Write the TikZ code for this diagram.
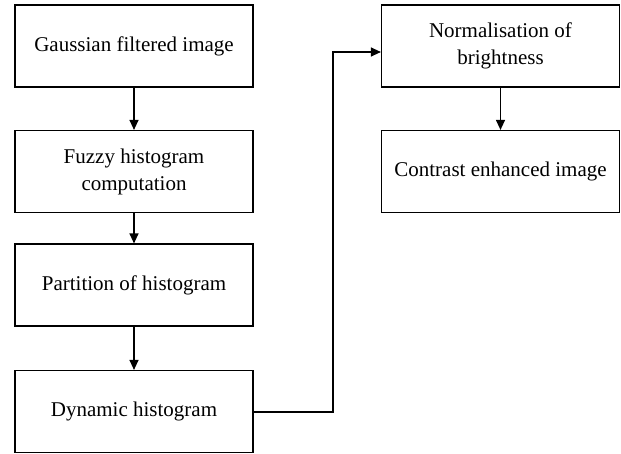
\documentclass[tikz,border=0pt]{standalone}
\usepackage{fontspec}
\setmainfont{Liberation Serif}
\usetikzlibrary{arrows.meta}
\begin{document}
\begin{tikzpicture}[x=1pt,y=-1pt,
  box/.style={draw, line width=1.2pt, minimum width=238pt, minimum height=82pt, inner sep=0pt, align=center, font=\fontsize{21}{27}\selectfont},
  conn/.style={line width=1.2pt, -{Triangle[length=10pt,width=9pt]}}]
\useasboundingbox (0,0) rectangle (621,453);
\node[box] (g) at (134,46) {Gaussian filtered image};
\node[box] (f) at (134,171.5) {Fuzzy histogram\\computation};
\node[box] (p) at (134,285) {Partition of histogram};
\node[box] (d) at (134,411.5) {Dynamic histogram};
\node[box] (n) at (500.5,46) {Normalisation of\\brightness};
\node[box] (c) at (500.5,171.5) {Contrast enhanced image};
\coordinate (t1) at (333,412);
\coordinate (t2) at (333,52);
\draw[conn] (g) -- (f);
\draw[conn] (f) -- (p);
\draw[conn] (p) -- (d);
\draw[conn] (n) -- (c);
\draw[conn] (d.east |- t1) -- (t1) -- (t2) -- (n.west |- t2);
\end{tikzpicture}
\end{document}
